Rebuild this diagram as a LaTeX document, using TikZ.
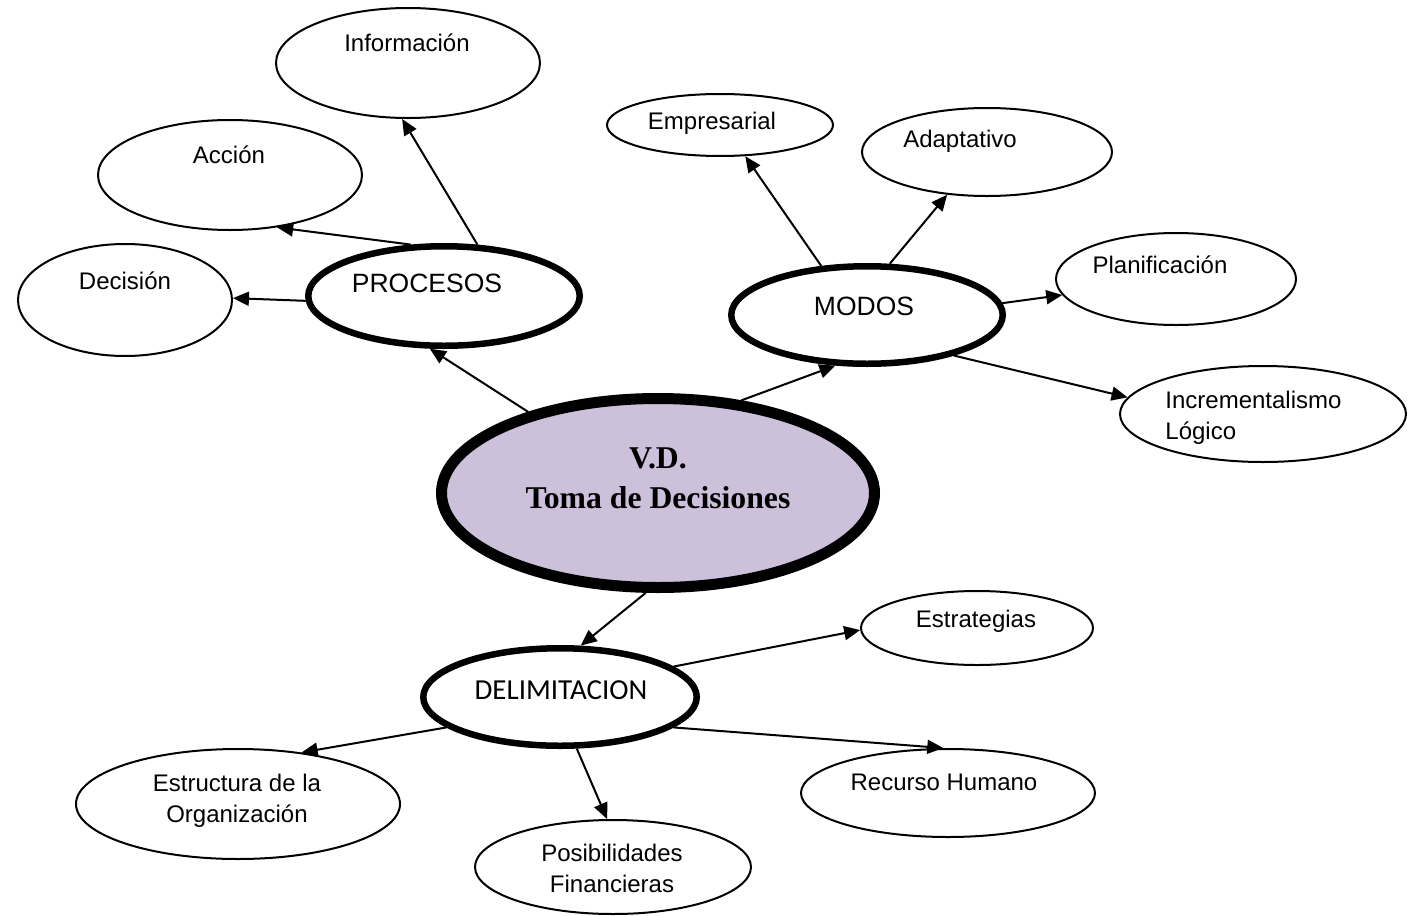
\documentclass[tikz,border=0pt]{standalone}
\usepackage{fontspec}
\setmainfont{Liberation Sans}
\newfontfamily\calfont{Carlito}
\newfontfamily\serfont{Liberation Serif}
\usetikzlibrary{arrows.meta,shapes.geometric}
\definecolor{vdfill}{HTML}{CCC0DA}

\tikzset{
  leaf/.style={ellipse, draw, line width=1pt, inner sep=0pt},
  hub/.style={ellipse, draw, line width=3.25pt, inner sep=0pt},
  core/.style={ellipse, draw, line width=5.5pt, fill=vdfill, inner sep=0pt},
  lbl/.style={inner sep=0pt, align=center, font=\fontsize{12}{15.5}\selectfont},
  hublbl/.style={inner sep=0pt, align=center, font=\fontsize{13.25}{16}\selectfont},
  corelbl/.style={inner sep=0pt, align=center, font=\serfont\bfseries\fontsize{15.85}{20}\selectfont},
  arr/.style={line width=1pt, -{Triangle[length=8pt,width=7pt]}},
}

\begin{document}
\begin{tikzpicture}[x=0.5pt,y=-0.5pt]
\useasboundingbox (0,0) rectangle (1415,916);

% central variable
\node[core, minimum width=216.5pt, minimum height=94.5pt] (vd) at (658,493) {};
\node[corelbl] (vdt) at (658,478) {V.D.\\Toma de Decisiones};

% PROCESOS branch
\node[hub, minimum width=135.75pt, minimum height=49.75pt] (proc) at (444,296) {};
\node[hublbl] (proct) at (427,283) {PROCESOS};
\node[leaf, minimum width=132pt, minimum height=55pt] (info) at (408,63) {};
\node[lbl] (infot) at (407,43) {Información};
\node[leaf, minimum width=132pt, minimum height=55pt] (acc) at (230,175) {};
\node[lbl] (acct) at (229,155) {Acción};
\node[leaf, minimum width=107pt, minimum height=56pt] (dec) at (125,300) {};
\node[lbl] (dect) at (125,281) {Decisión};

% MODOS branch
\node[hub, minimum width=135.75pt, minimum height=48.75pt] (modos) at (867,315) {};
\node[hublbl] (modost) at (864,306) {MODOS};
\node[leaf, minimum width=113pt, minimum height=31pt] (emp) at (720,125) {};
\node[lbl] (empt) at (712,123) {Empresarial};
\node[leaf, minimum width=125pt, minimum height=44pt] (adap) at (987,152) {};
\node[lbl] (adapt) at (960,141) {Adaptativo};
\node[leaf, minimum width=120pt, minimum height=46pt] (plan) at (1176,279) {};
\node[lbl] (plant) at (1160,265) {Planificación};
\node[leaf, minimum width=143pt, minimum height=48pt] (inc) at (1263,414) {};
\node[lbl, align=left, anchor=west] (inct) at (1165,418) {Incrementalismo\\Lógico};

% DELIMITACION branch
\node[hub, minimum width=136.75pt, minimum height=48.75pt] (delim) at (560,697) {};
\node[hublbl, font=\calfont\fontsize{14.5}{17}\selectfont] (delimt) at (561,690) {DELIMITACION};
\node[leaf, minimum width=116pt, minimum height=37pt] (estr) at (977,628) {};
\node[lbl] (estrt) at (976,621) {Estrategias};
\node[leaf, minimum width=162pt, minimum height=55pt] (org) at (238,804) {};
\node[lbl] (orgt) at (237,801) {Estructura de la\\Organización};
\node[leaf, minimum width=138pt, minimum height=47pt] (pos) at (613,867) {};
\node[lbl] (post) at (612,868) {Posibilidades\\Financieras};
\node[leaf, minimum width=147pt, minimum height=44pt] (rh) at (948,793) {};
\node[lbl] (rht) at (944,782) {Recurso Humano};

% connectors
\draw[arr] (vd.148) -- (proc.255.5);
\draw[arr] (proc.182.5) -- (dec.1.5);
\draw[arr] (proc.123.4) -- (acc.-48.7);
\draw[arr] (proc.57.3) -- (info.264.2);

\draw[arr] (vd.48.1) -- (modos.238.3);
\draw[arr] (modos.133.2) -- (emp.-51.3);
\draw[arr] (modos.66.1) -- (adap.227.6);
\draw[arr] (modos.5.4) -- (plan.188.8);
\draw[arr] (modos.-25.6) -- (inc.173.5);

\draw[arr] (vd.263.4) -- (delim.68.7);
\draw[arr] (delim.15.3) -- (estr.181);
\draw[arr] (delim.195.5) -- (org.39.9);
\draw[arr] (delim.288.1) -- (pos.97);
\draw[arr] (delim.345.5) -- (rh.96.3);
\end{tikzpicture}
\end{document}
